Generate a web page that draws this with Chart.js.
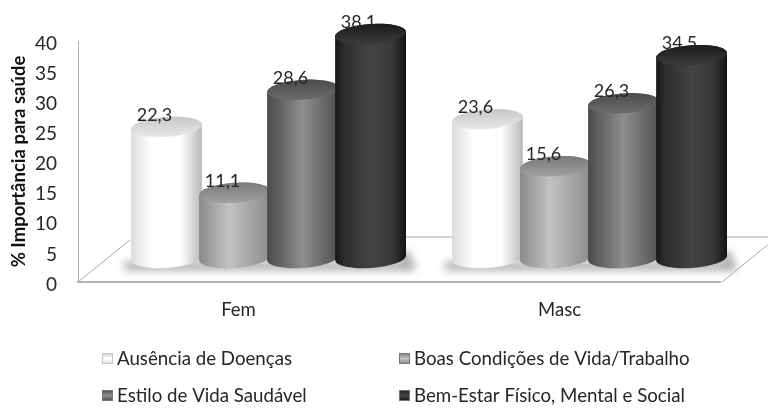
<!DOCTYPE html>
<html lang="pt">
<head>
    <meta charset="UTF-8">
    <title>Importância para saúde</title>
    <script src="https://cdn.jsdelivr.net/npm/chart.js"></script>
    <style>
        html, body { margin: 0; padding: 0; background: #fff; }
        #wrap { width: 768px; height: 408px; }
    </style>
</head>
<body>
    <div id="wrap"><canvas id="chart"></canvas></div>
    <script>
        const categories = ['Fem', 'Masc'];
        const seriesNames = ['Ausência de Doenças', 'Boas Condições de Vida/Trabalho', 'Estilo de Vida Saudável', 'Bem-Estar Físico, Mental e Social'];
        const ausencia = [22.3, 23.6];
        const boasCondicoes = [11.1, 15.6];
        const estiloVida = [28.6, 26.3];
        const bemEstar = [38.1, 34.5];
        const yTicks = [0, 5, 10, 15, 20, 25, 30, 35, 40];

        const FONT = 'Lato, "Open Sans", sans-serif';
        const TEXT = '#262626';

        // left edge, centre, right edge, top light, top dark, where the centre sits
        const shades = [
            ['#dcdcdc', '#ffffff', '#b8b8b8', '#e8e8e8', '#c8c8c8', 0.3],
            ['#8a8a8a', '#c2c2c2', '#8c8c8c', '#a0a0a0', '#7a7a7a', 0.42],
            ['#4a4a4a', '#8e8e8e', '#505050', '#6c6c6c', '#4c4c4c', 0.5],
            ['#161616', '#444444', '#131313', '#3a3a3a', '#1c1c1c', 0.5]
        ];

        // the bars stand further back on the floor than the axis labels
        const depthX = 30;
        const ry = 10;
        const tilt = -0.07;

        function bodyGradient(ctx, x0, x1, s) {
            const g = ctx.createLinearGradient(x0, 0, x1, 0);
            g.addColorStop(0, s[0]);
            g.addColorStop(s[5], s[1]);
            if (s === shades[0]) g.addColorStop(0.7, s[1]);
            if (s === shades[3]) {
                g.addColorStop(0.12, '#2c2c2c');
                g.addColorStop(0.8, '#383838');
            }
            g.addColorStop(1, s[2]);
            return g;
        }

        function drawCylinder(ctx, el, s) {
            const rx = el.width * 0.522;
            const x0 = el.x - rx, x1 = el.x + rx;
            ctx.beginPath();
            ctx.ellipse(el.x, el.base, rx, ry, tilt, 0, Math.PI);
            ctx.ellipse(el.x, el.y, rx, ry, tilt, Math.PI, 0);
            ctx.closePath();
            ctx.fillStyle = bodyGradient(ctx, x0, x1, s);
            ctx.fill();

            const t = ctx.createLinearGradient(0, el.y - ry, 0, el.y + ry);
            t.addColorStop(0, s[4]);
            t.addColorStop(1, s[3]);
            ctx.beginPath();
            ctx.ellipse(el.x, el.y, rx, ry, tilt, 0, Math.PI * 2);
            ctx.fillStyle = t;
            ctx.fill();
        }

        const cylinders = {
            id: 'cylinders',
            beforeDatasetsDraw(chart) {
                const ctx = chart.ctx;
                const a = chart.chartArea;
                const metas = chart.data.datasets.map((d, i) => chart.getDatasetMeta(i));

                // floor
                ctx.save();
                ctx.strokeStyle = '#a8a8a8';
                ctx.lineWidth = 1;
                ctx.beginPath();
                ctx.moveTo(a.left, a.bottom);
                ctx.lineTo(a.left + 52, a.bottom - 42);
                ctx.moveTo(a.left + 55, a.bottom - 45);
                ctx.lineTo(768, a.bottom - 45);
                ctx.moveTo(a.right + 2, a.bottom);
                ctx.lineTo(a.right + 50, a.bottom - 39);
                ctx.stroke();
                ctx.restore();

                ctx.save();
                ctx.translate(depthX, 0);

                // shadow on the floor
                categories.forEach((c, i) => {
                    const first = metas[0].data[i], last = metas[metas.length - 1].data[i];
                    ctx.save();
                    ctx.filter = 'blur(4px)';
                    ctx.fillStyle = '#a6a6a6';
                    ctx.fillRect(first.x - first.width / 2 - 8, first.base + 4, last.x - first.x + first.width + 18, 8);
                    ctx.fillRect(last.x + last.width / 2 - 4, first.base - 6, 10, 14);
                    ctx.restore();
                });

                categories.forEach((c, i) => {
                    metas.forEach((m, j) => drawCylinder(ctx, m.data[i], shades[j]));
                });
                ctx.restore();
            },
            // the cylinders replace the flat bars
            beforeDatasetDraw() {
                return false;
            },
            afterDatasetsDraw(chart) {
                const ctx = chart.ctx;
                ctx.save();
                ctx.font = '18px ' + FONT;
                ctx.fillStyle = TEXT;
                ctx.textAlign = 'center';
                ctx.textBaseline = 'middle';
                chart.data.datasets.forEach((d, j) => {
                    chart.getDatasetMeta(j).data.forEach((el, i) => {
                        ctx.fillText(String(d.data[i]).replace('.', ','), el.x + depthX - 12, el.y - 12);
                    });
                });

                // legend, two columns
                const cols = [102, 399];
                const rows = [358, 395];
                ctx.font = '18.7px ' + FONT;
                ctx.textAlign = 'left';
                chart.data.datasets.forEach((d, j) => {
                    const x = cols[j % 2], y = rows[Math.floor(j / 2)];
                    const g = ctx.createLinearGradient(0, y - 5, 0, y + 6);
                    g.addColorStop(0, shades[j][4]);
                    g.addColorStop(0.5, shades[j][1]);
                    g.addColorStop(1, shades[j][0]);
                    ctx.fillStyle = g;
                    ctx.fillRect(x, y - 5, 11, 11);
                    ctx.strokeStyle = j === 0 ? '#c4c4c4' : '#777';
                    ctx.lineWidth = 1;
                    ctx.strokeRect(x + 0.5, y - 4.5, 10, 10);
                    ctx.fillStyle = TEXT;
                    ctx.fillText(d.label, x + 15, y + 1);
                });
                ctx.restore();
            }
        };

        const barSeries = [ausencia, boasCondicoes, estiloVida, bemEstar];

        new Chart(document.getElementById('chart'), {
            type: 'bar',
            data: {
                labels: categories,
                datasets: barSeries.map((values, i) => ({
                    label: seriesNames[i],
                    data: values,
                    backgroundColor: shades[i][1],
                    yAxisID: 'yBars'
                }))
            },
            options: {
                responsive: true,
                maintainAspectRatio: false,
                animation: false,
                categoryPercentage: 0.848,
                barPercentage: 1,
                layout: { padding: { left: 0, top: 41, right: 48, bottom: 76 } },
                plugins: {
                    legend: { display: false },
                    tooltip: { enabled: false }
                },
                scales: {
                    x: {
                        afterFit(s) { s.height = 50; },
                        grid: { display: false, drawTicks: false },
                        border: { color: '#b4b4b4', width: 2 },
                        ticks: { padding: 17, color: TEXT, font: { family: FONT, size: 18.5 } }
                    },
                    y: {
                        min: 0,
                        max: 40,
                        afterFit(s) { s.width = 78; },
                        afterBuildTicks(s) { s.ticks = yTicks.map(v => ({ value: v })); },
                        grid: { display: false, drawTicks: false },
                        border: { color: '#b4b4b4', width: 1 },
                        ticks: { padding: 21, labelOffset: 2.5, color: TEXT, font: { family: FONT, size: 19 } },
                        title: {
                            display: true,
                            text: '% Importância para saúde',
                            color: '#111111',
                            padding: { top: 8, bottom: 0 },
                            font: { family: FONT, size: 18.5, weight: 'bold' }
                        }
                    },
                    // scale of the bars inside the 3D box, a bit flatter than the wall axis
                    yBars: {
                        display: false,
                        min: -4.08,
                        max: 36.91
                    }
                }
            },
            plugins: [cylinders]
        });
    </script>
</body>
</html>
